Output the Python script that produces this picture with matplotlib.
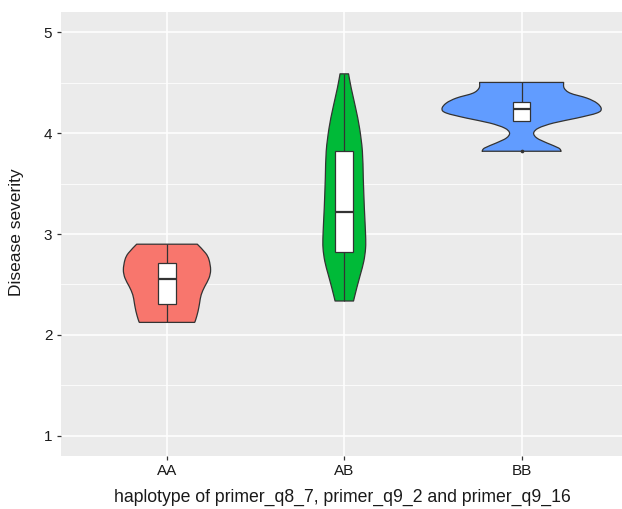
import matplotlib
matplotlib.use('Agg')
import matplotlib.pyplot as plt
from matplotlib.path import Path
from matplotlib.patches import PathPatch, Rectangle
import numpy as np

plt.rcParams['font.family'] = ['Liberation Sans', 'DejaVu Sans']

groups = ['AA', 'AB', 'BB']
fill_colors = ['#F8766D', '#00BA38', '#619CFF']

# violin density profiles (severity value, half width as fraction of category spacing), top -> bottom
aa_y = [2.899, 2.810, 2.744, 2.645, 2.563, 2.480, 2.398, 2.316, 2.233, 2.151, 2.124]
aa_w = [0.171, 0.218, 0.237, 0.246, 0.237, 0.213, 0.193, 0.184, 0.175, 0.162, 0.156]

ab_y = [4.587, 4.446, 4.248, 4.050, 3.820, 3.556, 3.259, 2.994, 2.860, 2.730, 2.600, 2.470, 2.336]
ab_w = [0.024, 0.039, 0.064, 0.086, 0.102, 0.107, 0.113, 0.120, 0.120, 0.110, 0.091, 0.071, 0.052]

bb_y = [4.502, 4.446, 4.396, 4.347, 4.297, 4.241, 4.199, 4.149, 4.100, 4.050, 4.001, 3.951, 3.902, 3.852, 3.820]
bb_w = [0.237, 0.240, 0.274, 0.368, 0.425, 0.449, 0.425, 0.312, 0.180, 0.096, 0.068, 0.086, 0.143, 0.209, 0.223]

# box statistics
whisker_lo = [2.124, 2.336, 4.119]
q1 = [2.302, 2.820, 4.119]
median = [2.559, 3.222, 4.235]
q3 = [2.708, 3.823, 4.310]
whisker_hi = [2.899, 4.587, 4.502]
outliers = [[], [], [3.820]]

profiles = [(aa_y, aa_w), (ab_y, ab_w), (bb_y, bb_w)]

W, H = 622, 509
fig = plt.figure(figsize=(W / 100, H / 100), dpi=100)
left, right, bottom, top = 60.6, 628.0, 456.0, 12.0
ax = fig.add_axes([left / W, 1 - bottom / H, (right - left) / W, (bottom - top) / H])
ax.set_facecolor('#EBEBEB')
for s in ax.spines.values():
    s.set_visible(False)

ax.set_xlim(0.4, 3.6)
ax.set_ylim(0.8, 5.2)

# grid
for yv in [1.5, 2.5, 3.5, 4.5]:
    ax.axhline(yv, color='white', lw=0.55, zorder=0.5)
for yv in [1, 2, 3, 4, 5]:
    ax.axhline(yv, color='white', lw=1.1, zorder=0.6)
for xv in [1, 2, 3]:
    ax.axvline(xv, color='white', lw=1.1, zorder=0.6)


def catmull(xs, ys):
    pts = np.column_stack([xs, ys])
    n = len(pts)
    verts = []
    for i in range(n - 1):
        p0 = pts[i - 1] if i > 0 else pts[i]
        p1 = pts[i]
        p2 = pts[i + 1]
        p3 = pts[i + 2] if i + 2 < n else pts[i + 1]
        c1 = p1 + (p2 - p0) / 6.0
        c2 = p2 - (p3 - p1) / 6.0
        verts += [tuple(c1), tuple(c2), tuple(p2)]
    return verts


edge = '#333333'
for i, (ys, ws) in enumerate(profiles):
    c = i + 1
    ys_b = np.array(ys[::-1])
    ws_b = np.array(ws[::-1])
    right_x = c + ws_b
    left_x = c - ws_b
    verts = [(right_x[0], ys_b[0])]
    codes = [Path.MOVETO]
    rv = catmull(right_x, ys_b)
    verts += rv
    codes += [Path.CURVE4] * len(rv)
    verts.append((left_x[-1], ys_b[-1]))
    codes.append(Path.LINETO)
    lv = catmull(left_x[::-1], ys_b[::-1])
    verts += lv
    codes += [Path.CURVE4] * len(lv)
    verts.append((right_x[0], ys_b[0]))
    codes.append(Path.CLOSEPOLY)
    patch = PathPatch(Path(verts, codes), facecolor=fill_colors[i], edgecolor=edge,
                      lw=0.9, zorder=2, joinstyle='round')
    ax.add_patch(patch)

    bw = 0.1
    ax.plot([c, c], [q3[i], whisker_hi[i]], color=edge, lw=0.9, zorder=3, solid_capstyle='butt')
    ax.plot([c, c], [whisker_lo[i], q1[i]], color=edge, lw=0.9, zorder=3, solid_capstyle='butt')
    ax.add_patch(Rectangle((c - bw / 2, q1[i]), bw, q3[i] - q1[i], facecolor='white',
                           edgecolor=edge, lw=0.9, zorder=3))
    ax.plot([c - bw / 2, c + bw / 2], [median[i], median[i]], color=edge, lw=1.6, zorder=4,
            solid_capstyle='butt')
    if outliers[i]:
        ax.scatter([c] * len(outliers[i]), outliers[i], s=7, color='#333333', zorder=5, lw=0)

ax.set_xticks([1, 2, 3])
ax.set_xticklabels(groups)
ax.set_yticks([1, 2, 3, 4, 5])
ax.set_yticklabels(['1', '2', '3', '4', '5'])
ax.tick_params(axis='both', colors='#333333', length=3, width=0.9, labelsize=11,
               labelcolor='#1a1a1a', pad=3)
ax.tick_params(axis='x', pad=3)

fig.text(17 / W, 1 - 232 / H, 'Disease severity', rotation=90, ha='center', va='center',
         fontsize=12.5, color='#1a1a1a')
fig.text(342 / W, 1 - 497 / H, 'haplotype of primer_q8_7, primer_q9_2 and primer_q9_16',
         ha='center', va='center', fontsize=12.7, color='#1a1a1a')

fig.savefig('out.png', dpi=100)
